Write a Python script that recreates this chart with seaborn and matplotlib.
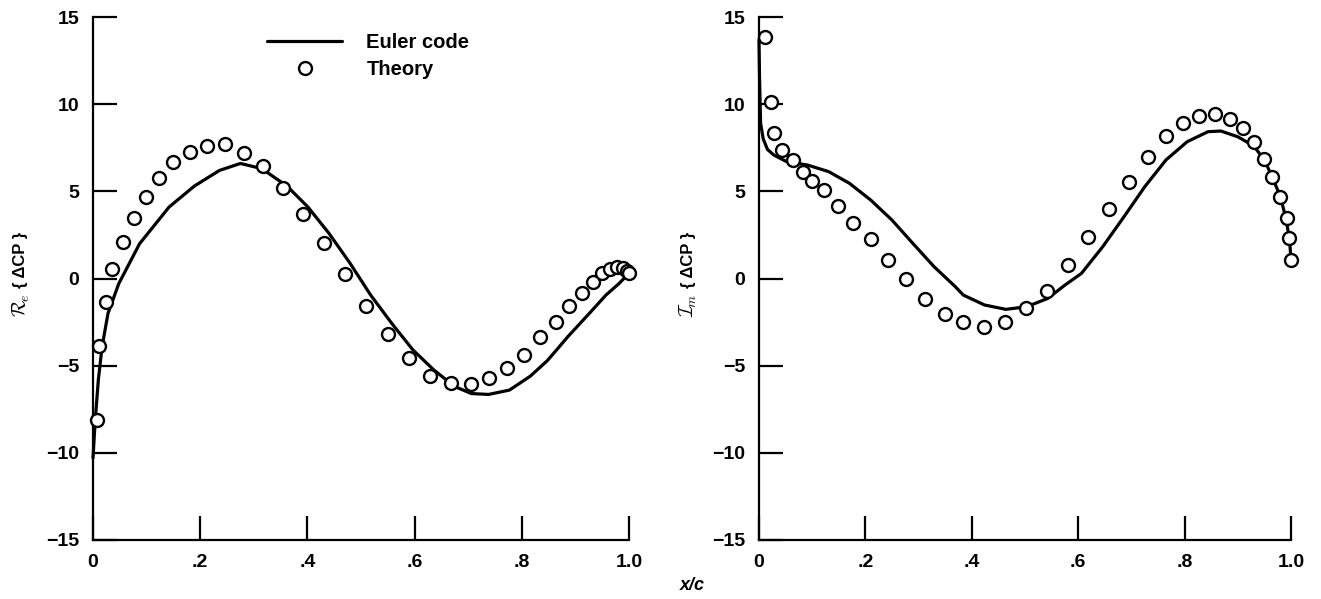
import numpy as np
import pandas as pd
import matplotlib
matplotlib.use("Agg")
import matplotlib.pyplot as plt
import seaborn as sns
from matplotlib.lines import Line2D

# ---------------- data ----------------
# Left panel: real part
re_euler_x = [0.0, 0.004, 0.010, 0.017, 0.028, 0.048, 0.087, 0.142, 0.189, 0.236, 0.275,
              0.315, 0.362, 0.401, 0.440, 0.479, 0.518, 0.558, 0.597, 0.636, 0.675, 0.706,
              0.738, 0.777, 0.816, 0.848, 0.887, 0.926, 0.957, 0.981, 1.0]
re_euler_y = [-10.3, -8.2, -5.8, -3.9, -2.0, -0.3, 2.0, 4.1, 5.3, 6.2, 6.6,
              6.3, 5.3, 4.1, 2.6, 0.9, -0.95, -2.6, -4.1, -5.25, -6.2, -6.6,
              -6.65, -6.4, -5.6, -4.7, -3.3, -2.0, -0.95, -0.3, 0.3]
re_theory_x = [0.007, 0.012, 0.025, 0.036, 0.056, 0.076, 0.099, 0.124, 0.150, 0.181, 0.213,
               0.246, 0.281, 0.318, 0.354, 0.391, 0.431, 0.471, 0.509, 0.550, 0.589, 0.628,
               0.667, 0.706, 0.738, 0.773, 0.804, 0.834, 0.863, 0.888, 0.912, 0.932, 0.950,
               0.965, 0.978, 0.988, 0.996, 1.0]
re_theory_y = [-8.1, -3.9, -1.33, 0.52, 2.1, 3.45, 4.69, 5.78, 6.70, 7.27, 7.62,
               7.70, 7.18, 6.47, 5.21, 3.68, 2.02, 0.26, -1.58, -3.2, -4.54, -5.58,
               -6.02, -6.08, -5.73, -5.16, -4.39, -3.34, -2.48, -1.58, -0.85, -0.22, 0.29,
               0.52, 0.67, 0.62, 0.45, 0.3]

# Right panel: imaginary part
im_euler_x = [0.0, 0.001, 0.003, 0.008, 0.016, 0.028, 0.052, 0.091, 0.131, 0.170, 0.210, 0.250,
              0.289, 0.329, 0.369, 0.384, 0.424, 0.464, 0.503, 0.543, 0.575, 0.606, 0.646,
              0.686, 0.725, 0.765, 0.805, 0.844, 0.868, 0.900, 0.930, 0.950, 0.965, 0.980,
              0.990, 0.997, 1.0]
im_euler_y = [13.7, 11.5, 8.9, 8.0, 7.4, 7.08, 6.70, 6.51, 6.13, 5.46, 4.5, 3.35,
              2.02, 0.68, -0.47, -0.95, -1.52, -1.77, -1.62, -1.14, -0.38, 0.29, 1.82,
              3.54, 5.26, 6.80, 7.85, 8.42, 8.46, 8.13, 7.6, 6.8, 5.8, 4.7,
              3.5, 2.3, 1.1]
im_theory_x = [0.012, 0.022, 0.028, 0.044, 0.064, 0.083, 0.099, 0.123, 0.149, 0.177, 0.210,
               0.242, 0.276, 0.312, 0.349, 0.384, 0.423, 0.462, 0.501, 0.541, 0.580, 0.618,
               0.658, 0.696, 0.731, 0.765, 0.797, 0.827, 0.858, 0.885, 0.910, 0.930, 0.949,
               0.965, 0.980, 0.992, 0.997, 1.0]
im_theory_y = [13.83, 10.14, 8.36, 7.37, 6.80, 6.13, 5.59, 5.07, 4.16, 3.20, 2.26,
               1.06, -0.01, -1.18, -2.06, -2.52, -2.77, -2.48, -1.71, -0.72, 0.77, 2.40,
               3.97, 5.55, 6.95, 8.17, 8.94, 9.32, 9.43, 9.13, 8.61, 7.85, 6.84,
               5.80, 4.66, 3.45, 2.30, 1.06]

x_ticks = [0, 0.2, 0.4, 0.6, 0.8, 1.0]
x_tick_labels = ["0", ".2", ".4", ".6", ".8", "1.0"]
y_ticks = [-15, -10, -5, 0, 5, 10, 15]
y_tick_labels = ["\u221215", "\u221210", "\u22125", "0", "5", "10", "15"]

# ---------------- style ----------------
sns.set_theme(style="white")
plt.rcParams["font.family"] = ["Liberation Sans", "DejaVu Sans"]
plt.rcParams["font.weight"] = "bold"
plt.rcParams["mathtext.fontset"] = "cm"
plt.rcParams["text.color"] = "black"
plt.rcParams["axes.labelcolor"] = "black"
plt.rcParams["xtick.color"] = "black"
plt.rcParams["ytick.color"] = "black"

W, H = 1321, 599
fig = plt.figure(figsize=(W / 100, H / 100), dpi=100)
ax_l = fig.add_axes([93 / W, 1 - 540 / H, 536 / W, 523 / H])
ax_r = fig.add_axes([759 / W, 1 - 540 / H, 532 / W, 523 / H])

LW = 2.3
MS = 9.3
MEW = 1.7


def draw(ax, ex, ey, tx, ty):
    sns.lineplot(x=ex, y=ey, ax=ax, color="black", linewidth=LW, sort=False,
                 estimator=None, legend=False)
    sns.scatterplot(x=tx, y=ty, ax=ax, marker="o", s=MS ** 2, facecolor="white",
                    edgecolor="black", linewidth=MEW, legend=False, zorder=5)
    ax.set_xlim(0, 1.0)
    ax.set_ylim(-15, 15)
    ax.set_xticks(x_ticks)
    ax.set_xticklabels(x_tick_labels)
    ax.set_yticks(y_ticks)
    ax.set_yticklabels(y_tick_labels)
    for s in ["top", "right"]:
        ax.spines[s].set_visible(False)
    for s in ["left", "bottom"]:
        ax.spines[s].set_linewidth(1.6)
        ax.spines[s].set_color("black")
    ax.tick_params(axis="both", which="major", direction="in", length=17, width=1.6,
                   colors="black", labelsize=14, pad=10,
                   bottom=True, left=True, top=False, right=False)
    for lab in ax.get_xticklabels() + ax.get_yticklabels():
        lab.set_fontweight("bold")
        lab.set_color("black")
    ax.set_xlabel("")
    ax.set_ylabel("")
    ax.grid(False)
    ax.set_facecolor("white")
    for c in ax.collections:
        c.set_clip_on(False)
    for l in ax.lines:
        l.set_clip_on(False)


draw(ax_l, re_euler_x, re_euler_y, re_theory_x, re_theory_y)
draw(ax_r, im_euler_x, im_euler_y, im_theory_x, im_theory_y)

# y-axis labels: script part + bold "{ ΔCP }"
for xpix, script in [(21, r"$\mathcal{R}_{\!e}$"), (688, r"$\mathcal{I}_{\!m}$")]:
    fig.text(xpix / W, 1 - 305 / H, script, rotation=90, fontsize=14,
             fontweight="normal", ha="center", va="center", color="black")
    fig.text(xpix / W, 1 - 260 / H, "{ \u0394CP }", rotation=90, fontsize=12,
             fontweight="bold", ha="center", va="center", color="black")

fig.text(692 / W, 1 - 585 / H, "x/c", fontsize=13, fontweight="bold",
         fontstyle="italic", ha="center", va="center", color="black")

handles = [
    Line2D([], [], color="black", linewidth=LW),
    Line2D([], [], color="black", linestyle="none", marker="o", markersize=MS,
           markerfacecolor="white", markeredgewidth=MEW),
]
leg = ax_l.legend(handles, ["Euler code", "Theory"], loc="upper left",
                  bbox_to_anchor=(267 / W, 1 - 33 / H), bbox_transform=fig.transFigure,
                  frameon=False, borderpad=0, borderaxespad=0, fontsize=14.5,
                  handlelength=3.73, handletextpad=1.2, labelspacing=0.42)
for t in leg.get_texts():
    t.set_fontweight("bold")
    t.set_color("black")

fig.savefig("out.png", dpi=100, facecolor="white")
